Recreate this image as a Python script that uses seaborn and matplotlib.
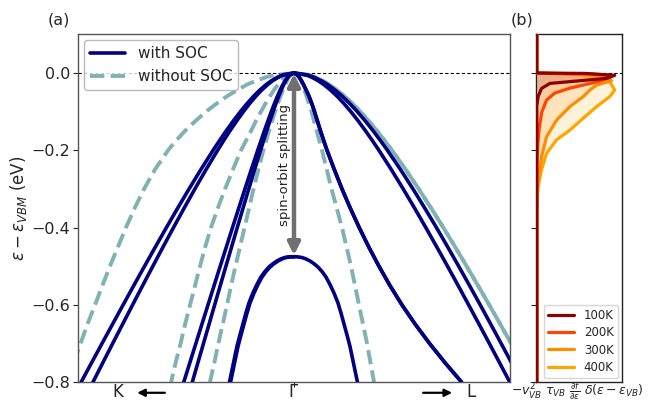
import matplotlib
matplotlib.use("Agg")
import matplotlib.pyplot as plt
import seaborn as sns
from matplotlib.lines import Line2D

sns.set_theme(style="ticks")
plt.rcParams["font.family"] = ["DejaVu Sans"]
plt.rcParams["mathtext.fontset"] = "dejavusans"

NAVY = "#000080"
TEAL = "#80b2b4"

# ---------------- panel (a): energy grid (eV) and |k| (K side = left, L side = right)
E_grid = [0.0, -0.005, -0.01, -0.02, -0.03, -0.045, -0.06, -0.08, -0.10, -0.125, -0.15, -0.175,
          -0.20, -0.25, -0.30, -0.35, -0.40, -0.45, -0.50, -0.55, -0.60, -0.65, -0.70, -0.75, -0.80]

# with SOC
hh1_left = [0, .0517, .0734, .1047, .1292, .160, .1868, .2188, .2481, .2822, .3143, .3449, .3745,
            .4312, .4858, .5388, .5906, .6415, .6918, .7416, .7909, .8398, .8886, .9370, .9852]
hh2_left = [0, .0488, .0693, .0989, .1220, .1511, .1764, .2067, .2343, .2665, .2969, .3258, .3537,
            .4073, .4588, .5089, .5578, .6059, .6534, .7004, .7470, .7932, .8393, .8850, .9305]
hh1_right = [0, .0627, .0889, .1264, .1556, .1918, .2231, .2599, .2932, .3314, .3669, .4004, .4325,
             .4932, .5507, .6058, .6593, .7113, .7623, .8124, .8619, .9106, .9589, 1.0068, 1.0542]
hh2_right = [0, .0556, .0789, .1123, .1384, .1710, .1993, .2328, .2633, .2986, .3316, .3629, .3931,
             .4506, .5055, .5585, .6101, .6607, .7106, .7597, .8083, .8564, .9042, .9516, .9988]
lh1_left = [0, .0201, .0287, .0414, .0516, .0648, .0767, .0913, .1050, .1214, .1373, .1527, .1679,
            .1977, .2270, .2559, .2846, .3131, .3415, .3698, .3980, .4261, .4542, .4822, .5102]
lh2_left = [0, .0185, .0265, .0382, .0476, .0598, .0708, .0842, .0969, .1120, .1267, .1409, .1549,
            .1824, .2094, .2361, .2626, .2889, .3151, .3412, .3672, .3931, .4190, .4449, .4707]
lh_right = [0, .0148, .0231, .0347, .0440, .0569, .0694, .0829, .0949, .1088, .1227, .1375, .1528,
            .1866, .2222, .2606, .3019, .3458, .3931, .4440, .4995, .5606, .6273, .6991, .7755]

# split-off band
so_E = [-.4756, -.4761, -.4777, -.4813, -.4867, -.4937, -.5023, -.5139, -.5282, -.5476, -.5696,
        -.5955, -.6214, -.6498, -.6783, -.7081, -.7327, -.7638, -.7948, -.80]
so_k = [0, .0185, .037, .0556, .0741, .0926, .1111, .1296, .1481, .1667, .1852, .2037, .2176,
        .2315, .2454, .2593, .2685, .2801, .2917, .294]
so2_left = [0, .0235, .042, .0606, .0791, .0976, .1161, .1346, .1531, .1717, .1902, .2087, .2226,
            .2365, .2504, .2643, .2735, .2851, .2967, .299]

# without SOC
d0_left = [0, .088, .125, .176, .218, .266, .310, .361, .407, .458, .505, .546, .583,
           .644, .694, .738, .778, .815, .852, .887, .921, .956, .988, 1.021, 1.051]
d1_left = [0, .028, .042, .059, .074, .094, .111, .133, .153, .177, .199, .222, .245,
           .283, .319, .353, .384, .411, .435, .458, .481, .504, .525, .548, .569]
d2_left = [0, .0162, .0231, .0324, .0398, .0514, .0625, .0755, .088, .102, .116, .129, .142,
           .165, .1875, .208, .229, .250, .271, .291, .310, .330, .350, .369, .389]
teal_hh_right = [0, .0657, .0932, .1325, .1631, .2011, .2339, .2725, .3074, .3474, .3846, .4197, .4534,
                 .5170, .5773, .6351, .6911, .7457, .7991, .8516, .9035, .9546, 1.0052, 1.0554, 1.1051]
teal_lh_right = [0, .0153, .0231, .0324, .0394, .0486, .0579, .0694, .081, .0931, .1051, .1176, .1296,
                 .1519, .1736, .1981, .2222, .2431, .2639, .2824, .3009, .3194, .338, .3542, .3704]

so_split = -0.4756

# ---------------- panel (b) data
t100_x = [0, 0, 0.60, 0.96, 0.86, 0.53, 0.16, 0.058, 0.016, 0, 0]
t100_E = [0.1, 0.0, -0.001, -0.006, -0.014, -0.020, -0.027, -0.040, -0.061, -0.085, -0.8]
t200_x = [0, 0, 0.70, 0.93, 0.90, 0.78, 0.41, 0.22, 0.12, 0.062, 0.031, 0.012, 0, 0]
t200_E = [0.1, 0.0, -0.003, -0.007, -0.010, -0.021, -0.039, -0.052, -0.070, -0.101, -0.140, -0.186, -0.24, -0.8]
t300_x = [0, 0, 0.60, 0.85, 0.92, 0.74, 0.654, 0.572, 0.407, 0.243, 0.12, 0.058, 0.016, 0, 0]
t300_E = [0.1, 0.0, -0.004, -0.010, -0.020, -0.031, -0.044, -0.061, -0.087, -0.122, -0.165, -0.217, -0.277, -0.33, -0.8]
t400_x = [0, 0, 0.55, 0.80, 0.90, 0.96, 0.90, 0.737, 0.572, 0.407, 0.243, 0.12, 0.058, 0.016, 0, 0]
t400_E = [0.1, 0.0, -0.005, -0.012, -0.0225, -0.044, -0.061, -0.087, -0.117, -0.148, -0.173, -0.208, -0.251, -0.294, -0.355, -0.8]
temps = ["100K", "200K", "300K", "400K"]
temp_colors = ["#8b0000", "#ff4500", "#ff8c00", "#ffa500"]

y_ticks = [0.0, -0.2, -0.4, -0.6, -0.8]

# ---------------- figure
fig = plt.figure(figsize=(6.49, 4.03), dpi=100)
axa = fig.add_axes([0.1202, 0.0521, 0.6656, 0.8635])
axb = fig.add_axes([0.8259, 0.0521, 0.1325, 0.8635])


def half(ax, kvals, E, side, **kw):
    xs = [side * v for v in kvals]
    sns.lineplot(x=xs, y=E, sort=False, estimator=None, ax=ax, **kw)


solid = dict(color=NAVY, lw=2.6, zorder=3)
dash_a = dict(color=TEAL, lw=2.8, linestyle=(0, (3.7, 1.6)), zorder=2)
dash_b = dict(color=TEAL, lw=2.8, linestyle=(2.6, (3.7, 1.6)), zorder=2)

# without SOC
half(axa, d0_left, E_grid, -1, **dash_a)
half(axa, d1_left, E_grid, -1, **dash_a)
half(axa, d2_left, E_grid, -1, **dash_a)
half(axa, teal_hh_right, E_grid, 1, **dash_a)
half(axa, teal_hh_right, E_grid, 1, **dash_b)
half(axa, teal_lh_right, E_grid, 1, **dash_a)

# with SOC
for left, right in [(hh1_left, hh1_right), (hh2_left, hh2_right),
                    (lh1_left, lh_right), (lh2_left, lh_right)]:
    half(axa, left, E_grid, -1, **solid)
    half(axa, right, E_grid, 1, **solid)
half(axa, so_k, so_E, -1, **solid)
half(axa, so2_left, so_E, -1, **solid)
half(axa, so_k, so_E, 1, **solid)

axa.axhline(0, color="black", ls=(0, (3, 2)), lw=0.8, zorder=1)

axa.annotate("", xy=(0, so_split + 0.004), xytext=(0, -0.002),
             arrowprops=dict(arrowstyle="<|-|>", color="#707070", lw=3.2,
                             mutation_scale=18, shrinkA=0, shrinkB=0), zorder=5)
axa.text(-0.045, so_split / 2, "spin-orbit splitting", rotation=90,
         ha="center", va="center", fontsize=9.5, color="#222222", zorder=6)

axa.set_xlim(-1, 1)
axa.set_ylim(-0.8, 0.101)
axa.set_yticks(y_ticks)
axa.set_yticklabels([f"{v:.1f}".replace("-", "\u2212") for v in y_ticks])
axa.set_xticks([0])
axa.set_xticklabels([""])
axa.tick_params(axis="both", labelsize=11.5, length=3.5, width=0.8, direction="out", pad=2)
axa.set_xlabel("")
axa.set_ylabel(r"$\varepsilon - \varepsilon_{VBM}$ (eV)", fontsize=12, labelpad=2)

base_y = -0.0445
axa.text(0.0926, base_y, "K", transform=axa.transAxes, ha="center", va="baseline", fontsize=12)
axa.text(0.4977, base_y, "\u0393", transform=axa.transAxes, ha="center", va="baseline", fontsize=12)
axa.text(0.9097, base_y, "L", transform=axa.transAxes, ha="center", va="baseline", fontsize=12)
for start, end in [(0.201, 0.137), (0.799, 0.866)]:
    axa.annotate("", xy=(end, -0.031), xytext=(start, -0.031), xycoords="axes fraction",
                 arrowprops=dict(arrowstyle="-|>", color="black", lw=1.6,
                                 mutation_scale=11, shrinkA=0, shrinkB=0),
                 annotation_clip=False)

handles_a = [Line2D([], [], color=NAVY, lw=2.6),
             Line2D([], [], color=TEAL, lw=2.8, linestyle=(0, (3.7, 1.6)))]
axa.legend(handles_a, ["with SOC", "without SOC"], loc="upper left", fontsize=11,
           handlelength=2.3, borderaxespad=0.4, framealpha=0.8, edgecolor="#aaaaaa",
           fancybox=True)

for sp in axa.spines.values():
    sp.set_color("#555555")
    sp.set_linewidth(1.0)

# ---------------- panel (b)
curves = [(t100_x, t100_E), (t200_x, t200_E), (t300_x, t300_E), (t400_x, t400_E)]
for i in [3, 2, 1, 0]:
    xs, es = curves[i]
    axb.fill_betweenx(es, 0, xs, color=temp_colors[i], alpha=0.14, lw=0, zorder=1)
    sns.lineplot(x=xs, y=es, sort=False, estimator=None, ax=axb,
                 color=temp_colors[i], lw=2.3, zorder=3 + (3 - i))

axb.axhline(0, color="black", ls=(0, (3, 2)), lw=0.8, zorder=2)
axb.set_xlim(-0.01, 1.05)
axb.set_ylim(-0.8, 0.101)
axb.set_yticks(y_ticks)
axb.set_yticklabels([])
axb.set_xticks([])
axb.tick_params(axis="y", length=3.5, width=0.8)
axb.set_ylabel("")
axb.set_xlabel("")
fig.text(577 / 649, 1.5 / 403,
         r"$-v_{VB}^2\ \tau_{VB}\ \frac{\partial f}{\partial \varepsilon}\ \delta(\varepsilon - \varepsilon_{VB})$",
         ha="center", va="bottom", fontsize=9.0)
handles_b = [Line2D([], [], color=c, lw=2.3) for c in temp_colors]
axb.legend(handles_b, temps, loc="lower right", fontsize=8.5, handlelength=2.2,
           borderaxespad=0.3, framealpha=0.8, edgecolor="#cccccc", labelspacing=0.35)
for sp in axb.spines.values():
    sp.set_color("#222222")
    sp.set_linewidth(1.0)

fig.text(48 / 649, 1 - 20 / 403, "(a)", ha="left", va="center", fontsize=11.5)
fig.text(511 / 649, 1 - 20 / 403, "(b)", ha="left", va="center", fontsize=11.5)

fig.savefig("out.png", dpi=100)
